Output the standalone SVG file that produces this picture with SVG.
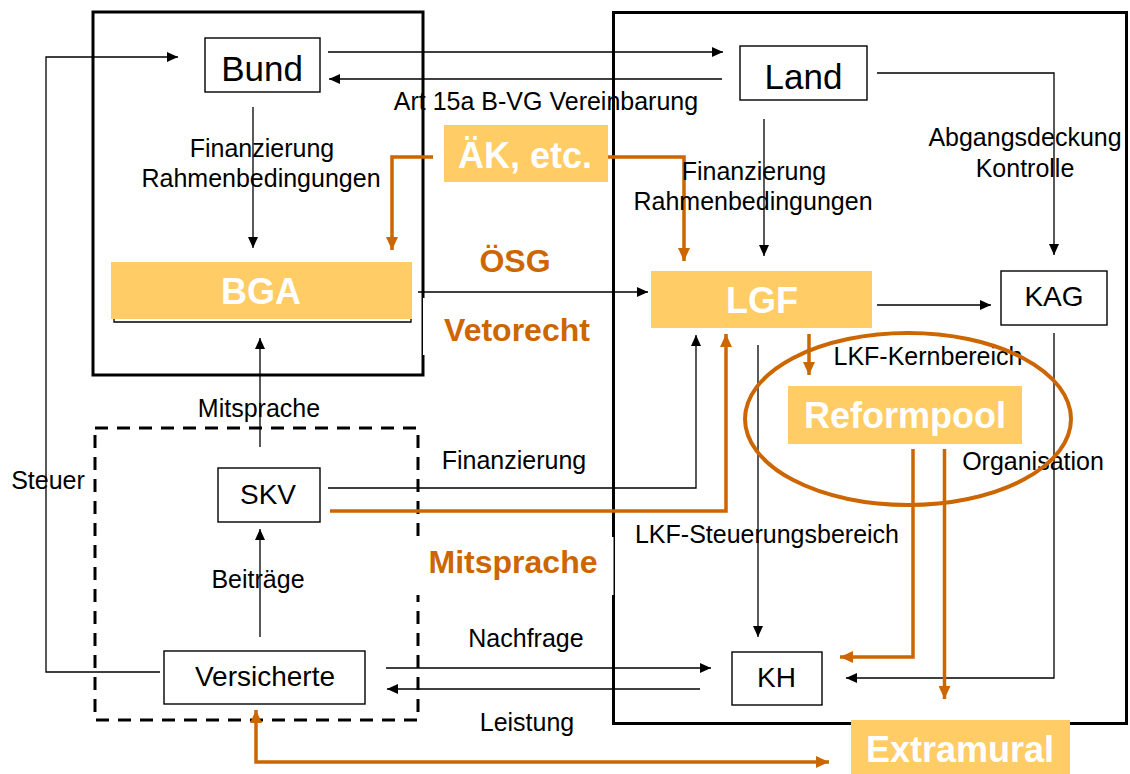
<svg xmlns="http://www.w3.org/2000/svg" width="1130" height="774" viewBox="0 0 1130 774">
<style>
text{font-family:"Liberation Sans",Arial,sans-serif;text-anchor:middle}
.lbl{font-size:25px;fill:#000}
.nt{font-size:28px;fill:#000}
.big{font-size:35px;fill:#000}
.hl{font-size:36px;font-weight:bold;fill:#fff}
.ot{font-size:32px;font-weight:bold;fill:#CC6600}
.box{fill:#fff;stroke:#000;stroke-width:1.4}
.hf{fill:#FFCC66}
.frame{fill:none;stroke:#000;stroke-width:3}
.c{fill:none;stroke:#000;stroke-width:1.3}
.o{fill:none;stroke:#CC6600;stroke-width:3.5}
</style>
<defs>
<marker id="ab" markerUnits="userSpaceOnUse" markerWidth="11" markerHeight="10" refX="11" refY="5" orient="auto-start-reverse"><path d="M0,0 L11,5 L0,10 z" fill="#000"/></marker>
<marker id="ao" markerUnits="userSpaceOnUse" markerWidth="13" markerHeight="12" refX="13" refY="6" orient="auto-start-reverse"><path d="M0,0 L13,6 L0,12 z" fill="#CC6600"/></marker>
</defs>
<rect width="1130" height="774" fill="#fff"/>

<g id="frames">
<rect class="frame" x="93" y="12" width="330" height="363"/>
<rect class="frame" x="613.5" y="12.5" width="513" height="711"/>
<rect x="95" y="428" width="323" height="292" fill="none" stroke="#000" stroke-width="3" stroke-dasharray="13,9"/>
<rect x="423" y="298" width="189" height="57" fill="#fff"/>
<rect x="416" y="537" width="197.5" height="58" fill="#fff"/>
</g>

<g id="connectors">
<path class="c" d="M328,52 H723" marker-end="url(#ab)"/>
<path class="c" d="M722,79 H329" marker-end="url(#ab)"/>
<path class="c" d="M253,107 V248" marker-end="url(#ab)"/>
<path class="c" d="M764,119 V256" marker-end="url(#ab)"/>
<path class="c" d="M877,73 H1054 V255" marker-end="url(#ab)"/>
<path class="c" d="M418,292 H648" marker-end="url(#ab)"/>
<path class="c" d="M877,305 H991" marker-end="url(#ab)"/>
<path class="c" d="M160,672 H46 V57 H178" marker-end="url(#ab)"/>
<path class="c" d="M260,447 V338" marker-end="url(#ab)"/>
<path class="c" d="M260,637 V529" marker-end="url(#ab)"/>
<path class="c" d="M328,488 H696 V335" marker-end="url(#ab)"/>
<path class="c" d="M758,345 V637" marker-end="url(#ab)"/>
<path class="c" d="M1054,333 V678 H846" marker-end="url(#ab)"/>
<path class="c" d="M386,668 H711" marker-end="url(#ab)"/>
<path class="c" d="M700,689 H387" marker-end="url(#ab)"/>
<path class="o" d="M433,157 H392 V250" marker-end="url(#ao)"/>
<path class="o" d="M608,157 H684 V261" marker-end="url(#ao)"/>
<path class="o" d="M330,511 H726 V334" marker-end="url(#ao)"/>
<path class="o" d="M809,334 V375" marker-end="url(#ao)"/>
<path class="o" d="M913,449 V657 H840" marker-end="url(#ao)"/>
<path class="o" d="M944.5,449 V699" marker-end="url(#ao)"/>
<path class="o" d="M256,710 V762 H829" marker-start="url(#ao)" marker-end="url(#ao)"/>
</g>

<g id="labels">
<text class="lbl" x="546" y="110">Art 15a B-VG Vereinbarung</text>
<text class="lbl" x="262" y="157">Finanzierung</text>
<text class="lbl" x="261" y="187">Rahmenbedingungen</text>
<text class="lbl" x="754" y="180">Finanzierung</text>
<text class="lbl" x="753" y="210">Rahmenbedingungen</text>
<text class="lbl" x="1025" y="146">Abgangsdeckung</text>
<text class="lbl" x="1025" y="177">Kontrolle</text>
<text class="ot" x="515" y="272">ÖSG</text>
<text class="ot" x="517" y="341">Vetorecht</text>
<text class="lbl" x="928" y="365">LKF-Kernbereich</text>
<text class="lbl" x="1033" y="470">Organisation</text>
<text class="lbl" x="767" y="543">LKF-Steuerungsbereich</text>
<text class="lbl" x="259" y="417">Mitsprache</text>
<text class="lbl" x="48" y="489">Steuer</text>
<text class="lbl" x="514" y="469">Finanzierung</text>
<text class="ot" x="513" y="573">Mitsprache</text>
<text class="lbl" x="258" y="588">Beiträge</text>
<text class="lbl" x="526" y="647">Nachfrage</text>
<text class="lbl" x="527" y="731">Leistung</text>
</g>

<g id="Bund"><rect class="box" x="205" y="38" width="115" height="54"/><text class="big" x="262" y="81">Bund</text></g>
<g id="Land"><rect class="box" x="740" y="46" width="127" height="54"/><text class="big" x="803.5" y="89">Land</text></g>
<g id="BGA"><path d="M114,300 V322 H411 V300" fill="none" stroke="#000" stroke-width="1.3"/><rect class="hf" x="111" y="262" width="301" height="57"/><text class="hl" x="261" y="304">BGA</text></g>
<g id="AEK"><rect class="hf" x="444" y="125" width="164" height="57"/><text class="hl" x="525" y="168">ÄK, etc.</text></g>
<g id="LGF"><rect class="hf" x="651" y="271" width="221" height="57"/><text class="hl" x="762" y="313">LGF</text></g>
<g id="KAG"><rect class="box" x="1001" y="271" width="106" height="54"/><text class="nt" x="1054" y="306">KAG</text></g>
<g id="Reformpool"><rect class="hf" x="788" y="386" width="234" height="58"/><text class="hl" x="905" y="428">Reformpool</text></g>
<g id="SKV"><rect class="box" x="218" y="468" width="102" height="54"/><text class="nt" x="268" y="504">SKV</text></g>
<g id="Versicherte"><rect class="box" x="164" y="651" width="201" height="53"/><text class="nt" x="265" y="686">Versicherte</text></g>
<g id="KH"><rect class="box" x="732" y="652" width="90" height="53"/><text class="nt" x="776.5" y="687">KH</text></g>
<g id="Extramural"><rect class="hf" x="851" y="720" width="219" height="54"/><text class="hl" x="960" y="762">Extramural</text></g>
<g id="ellipse"><ellipse cx="908" cy="419" rx="163" ry="86" fill="none" stroke="#CC6600" stroke-width="4"/></g>
</svg>
